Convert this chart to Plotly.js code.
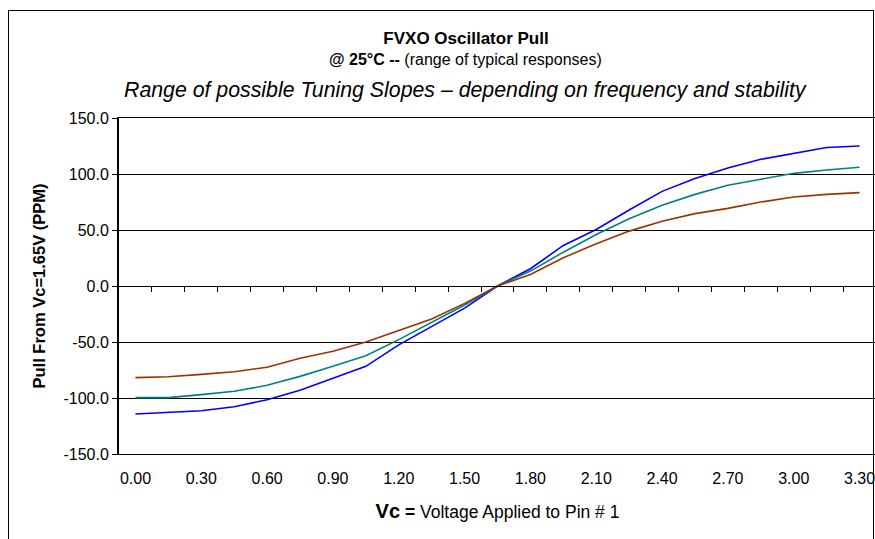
<!DOCTYPE html>
<html>
<head>
<meta charset="utf-8">
<script src="https://cdn.plot.ly/plotly-3.0.1.min.js"></script>
<style>
  html, body { margin: 0; padding: 0; background: #fff; overflow: hidden; width: 875px; height: 539px; }
  #frame { position: absolute; left: 8px; top: 10px; width: 866px; height: 600px; border: 1px solid #000; box-sizing: border-box; pointer-events: none; z-index: 5; }
  #chart { position: absolute; left: 0; top: 0; }
</style>
</head>
<body>
<div id="chart"></div>
<div id="frame"></div>
<script>
// Control voltage Vc (V)
const vc = [0.00, 0.15, 0.30, 0.45, 0.60, 0.75, 0.90, 1.05, 1.20, 1.35, 1.50, 1.65,
            1.80, 1.95, 2.10, 2.25, 2.40, 2.55, 2.70, 2.85, 3.00, 3.15, 3.30];
// Pull from Vc=1.65V (PPM)
const pullHigh = [-114.3, -112.8, -111.4, -107.8, -101.5, -93.0, -82.2, -71.7, -52.6, -35.9, -19.8, 0,
                  15.4, 36.2, 50.5, 67.8, 84.5, 95.9, 105.4, 113.1, 118.5, 123.6, 125.0];
const pullMid  = [-99.7, -99.7, -97.0, -94.0, -88.7, -80.7, -71.7, -62.2, -47.9, -32.4, -17.0, 0,
                  13.3, 30.2, 46.0, 60.0, 72.0, 81.8, 89.9, 95.3, 100.6, 103.6, 106.0];
const pullLow  = [-81.8, -81.0, -78.9, -76.5, -72.6, -64.5, -58.3, -50.0, -39.8, -29.4, -15.5, 0,
                  10.3, 25.2, 37.7, 49.0, 57.8, 64.6, 69.3, 75.0, 79.4, 81.8, 83.4];
// Axis labels
const xTickVals = [0.00, 0.30, 0.60, 0.90, 1.20, 1.50, 1.80, 2.10, 2.40, 2.70, 3.00, 3.30];
const xTickText = ["0.00", "0.30", "0.60", "0.90", "1.20", "1.50", "1.80", "2.10", "2.40", "2.70", "3.00", "3.30"];
const yTickVals = [-150, -100, -50, 0, 50, 100, 150];
const yTickText = ["-150.0", "-100.0", "-50.0", "0.0", "50.0", "100.0", "150.0"];

// category boundaries (tick marks between categories, Excel style)
const step = vc[1] - vc[0];
const boundaries = vc.slice(0, -1).map(v => v + step / 2);
const xRange = [vc[0] - step / 2, vc[vc.length - 1] + step / 2];

const FONT = "Liberation Sans, Arial, sans-serif";

const traces = [
  { x: vc, y: pullHigh, type: "scatter", mode: "lines", line: { color: "#0000FF", width: 1.6 }, name: "High pull", xaxis: "x", yaxis: "y" },
  { x: vc, y: pullMid,  type: "scatter", mode: "lines", line: { color: "#008080", width: 1.6 }, name: "Mid pull", xaxis: "x", yaxis: "y" },
  { x: vc, y: pullLow,  type: "scatter", mode: "lines", line: { color: "#993300", width: 1.6 }, name: "Low pull", xaxis: "x2", yaxis: "y" }
];

const W = 885, H = 539;
const layout = {
  width: W, height: H,
  margin: { l: 119, r: 9, t: 118, b: 85 },
  paper_bgcolor: "#fff", plot_bgcolor: "#fff",
  showlegend: false,
  font: { family: FONT, color: "#000", size: 16 },
  title: {
    text: "<b>FVXO Oscillator Pull</b>",
    font: { family: FONT, size: 17, color: "#000" },
    xref: "container", yref: "container",
    x: 466 / W, y: 1 - 38 / H, xanchor: "center", yanchor: "middle"
  },
  xaxis: {
    range: xRange, type: "linear",
    tickvals: xTickVals, ticktext: xTickText,
    ticks: "", showgrid: false, zeroline: false,
    showline: true, mirror: true, linecolor: "#000", linewidth: 1,
    tickfont: { family: FONT, size: 16, color: "#000" },
    ticklabelstandoff: 10,
    title: {
      text: "<b><span style='font-size:20px'>Vc</span> =</b> Voltage Applied to Pin # 1",
      font: { family: FONT, size: 17.5, color: "#000" },
      standoff: 19
    },
    fixedrange: true
  },
  xaxis2: {
    overlaying: "x", anchor: "free", position: 0.5, side: "bottom",
    range: xRange, type: "linear",
    tickvals: boundaries, showticklabels: false,
    ticks: "outside", ticklen: 5, tickwidth: 1, tickcolor: "#000",
    showgrid: false, zeroline: false,
    showline: true, linecolor: "#000", linewidth: 1,
    fixedrange: true
  },
  yaxis: {
    range: [-150, 150],
    tickvals: yTickVals, ticktext: yTickText,
    ticks: "outside", ticklen: 5, tickcolor: "#000",
    showgrid: true, gridcolor: "#000", gridwidth: 1,
    zeroline: false,
    showline: true, linecolor: "#000", linewidth: 2,
    tickfont: { family: FONT, size: 16, color: "#000" },
    title: {
      text: "<b>Pull From Vc=1.65V (PPM)</b>",
      font: { family: FONT, size: 16.5, color: "#000" },
      standoff: 14
    },
    fixedrange: true
  },
  annotations: [
    {
      text: "<b>@ 25°C --</b> (range of typical responses)",
      xref: "paper", yref: "paper", x: (465 - 119) / 757, y: (454 - 60) / 336,
      xanchor: "center", yanchor: "middle", showarrow: false,
      font: { family: FONT, size: 16, color: "#000" }
    },
    {
      text: "<i>Range of possible Tuning Slopes – depending on frequency and stability</i>",
      xref: "paper", yref: "paper", x: (465 - 119) / 757, y: (454 - 90) / 336,
      xanchor: "center", yanchor: "middle", showarrow: false,
      font: { family: FONT, size: 21.3, color: "#000" }
    }
  ]
};

Plotly.newPlot("chart", traces, layout, { displayModeBar: false, staticPlot: true });
</script>
</body>
</html>
